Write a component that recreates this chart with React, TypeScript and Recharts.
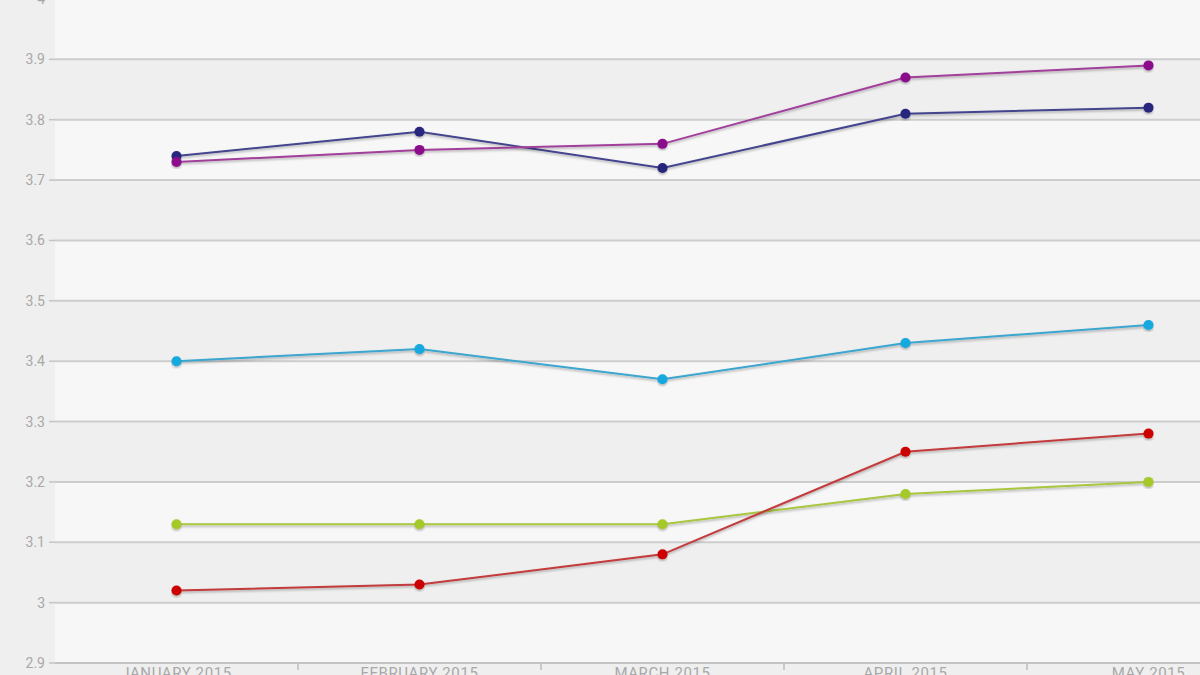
import React from 'react'
import { LineChart, Line, XAxis, YAxis, CartesianGrid } from 'recharts'

const months = ['JANUARY 2015', 'FEBRUARY 2015', 'MARCH 2015', 'APRIL 2015', 'MAY 2015']

const purpleSeries = [3.73, 3.75, 3.76, 3.87, 3.89]
const navySeries = [3.74, 3.78, 3.72, 3.81, 3.82]
const cyanSeries = [3.4, 3.42, 3.37, 3.43, 3.46]
const redSeries = [3.02, 3.03, 3.08, 3.25, 3.28]
const limeSeries = [3.13, 3.13, 3.13, 3.18, 3.2]

const yTicks = [2.9, 3, 3.1, 3.2, 3.3, 3.4, 3.5, 3.6, 3.7, 3.8, 3.9, 4]

const data = months.map((month, i) => ({
  month,
  purple: purpleSeries[i],
  navy: navySeries[i],
  cyan: cyanSeries[i],
  red: redSeries[i],
  lime: limeSeries[i],
}))

const series = [
  { key: 'lime', line: '#a9c640', dot: '#a6c92a' },
  { key: 'red', line: '#c23a3c', dot: '#cc0505' },
  { key: 'cyan', line: '#3ca6cf', dot: '#14a9df' },
  { key: 'navy', line: '#44448e', dot: '#28287f' },
  { key: 'purple', line: '#a0409a', dot: '#8c0c8c' },
]

const axisText = '#a8a8a8'

// month label plus a small divider tick at the right edge of each band
function MonthTick(props: any) {
  const { x, y, payload, index, visibleTicksCount } = props
  const half = payload?.offset ?? 0
  const axisY = y - 8
  return (
    <g>
      <text
        x={x}
        y={axisY + 15}
        textAnchor="middle"
        fill={axisText}
        fontSize={15}
        letterSpacing={0.6}
        fontFamily="Roboto, sans-serif"
      >
        {payload.value}
      </text>
      {index < visibleTicksCount - 1 && (
        <line x1={x + half} x2={x + half} y1={axisY} y2={axisY + 7} stroke="#bdbdbd" strokeWidth={1.5} />
      )}
    </g>
  )
}

export default function App() {
  return (
    <div
      style={{
        position: 'fixed',
        left: 0,
        top: 0,
        width: 1200,
        height: 675,
        overflow: 'hidden',
        background: '#efefef',
      }}
    >
      <div style={{ position: 'absolute', left: 0, top: -20 }}>
        <LineChart
          width={1300}
          height={720}
          data={data}
          margin={{ top: 19, right: 30, left: 0, bottom: 7 }}
        >
          <defs>
            <filter id="lineShadow" x="-5%" y="-20%" width="110%" height="140%">
              <feDropShadow dx="0" dy="1.5" stdDeviation="1.3" floodColor="#000" floodOpacity="0.3" />
            </filter>
          </defs>
          <CartesianGrid
            vertical={false}
            stroke="#cdcdcd"
            strokeWidth={2}
            horizontalFill={['#f7f7f7', '#efefef']}
            fillOpacity={1}
          />
          <XAxis
            dataKey="month"
            scale="band"
            height={30}
            axisLine={{ stroke: '#c4c4c4', strokeWidth: 2 }}
            tickLine={false}
            tick={<MonthTick />}
            interval={0}
          />
          <YAxis
            domain={[2.9, 4]}
            ticks={yTicks}
            width={55}
            axisLine={false}
            tickLine={{ stroke: '#c4c4c4', strokeWidth: 1.5 }}
            tickSize={6}
            tickMargin={4}
            tickFormatter={(v: number) => String(Math.round(v * 10) / 10)}
            tick={{ fill: axisText, fontSize: 14, fontFamily: 'Roboto, sans-serif' }}
          />
          {series.map((s) => (
            <Line
              key={s.key}
              type="linear"
              dataKey={s.key}
              stroke={s.line}
              strokeWidth={2}
              filter="url(#lineShadow)"
              dot={{ r: 5, fill: s.dot, stroke: 'none' }}
              activeDot={false}
              isAnimationActive={false}
            />
          ))}
        </LineChart>
      </div>
    </div>
  )
}
